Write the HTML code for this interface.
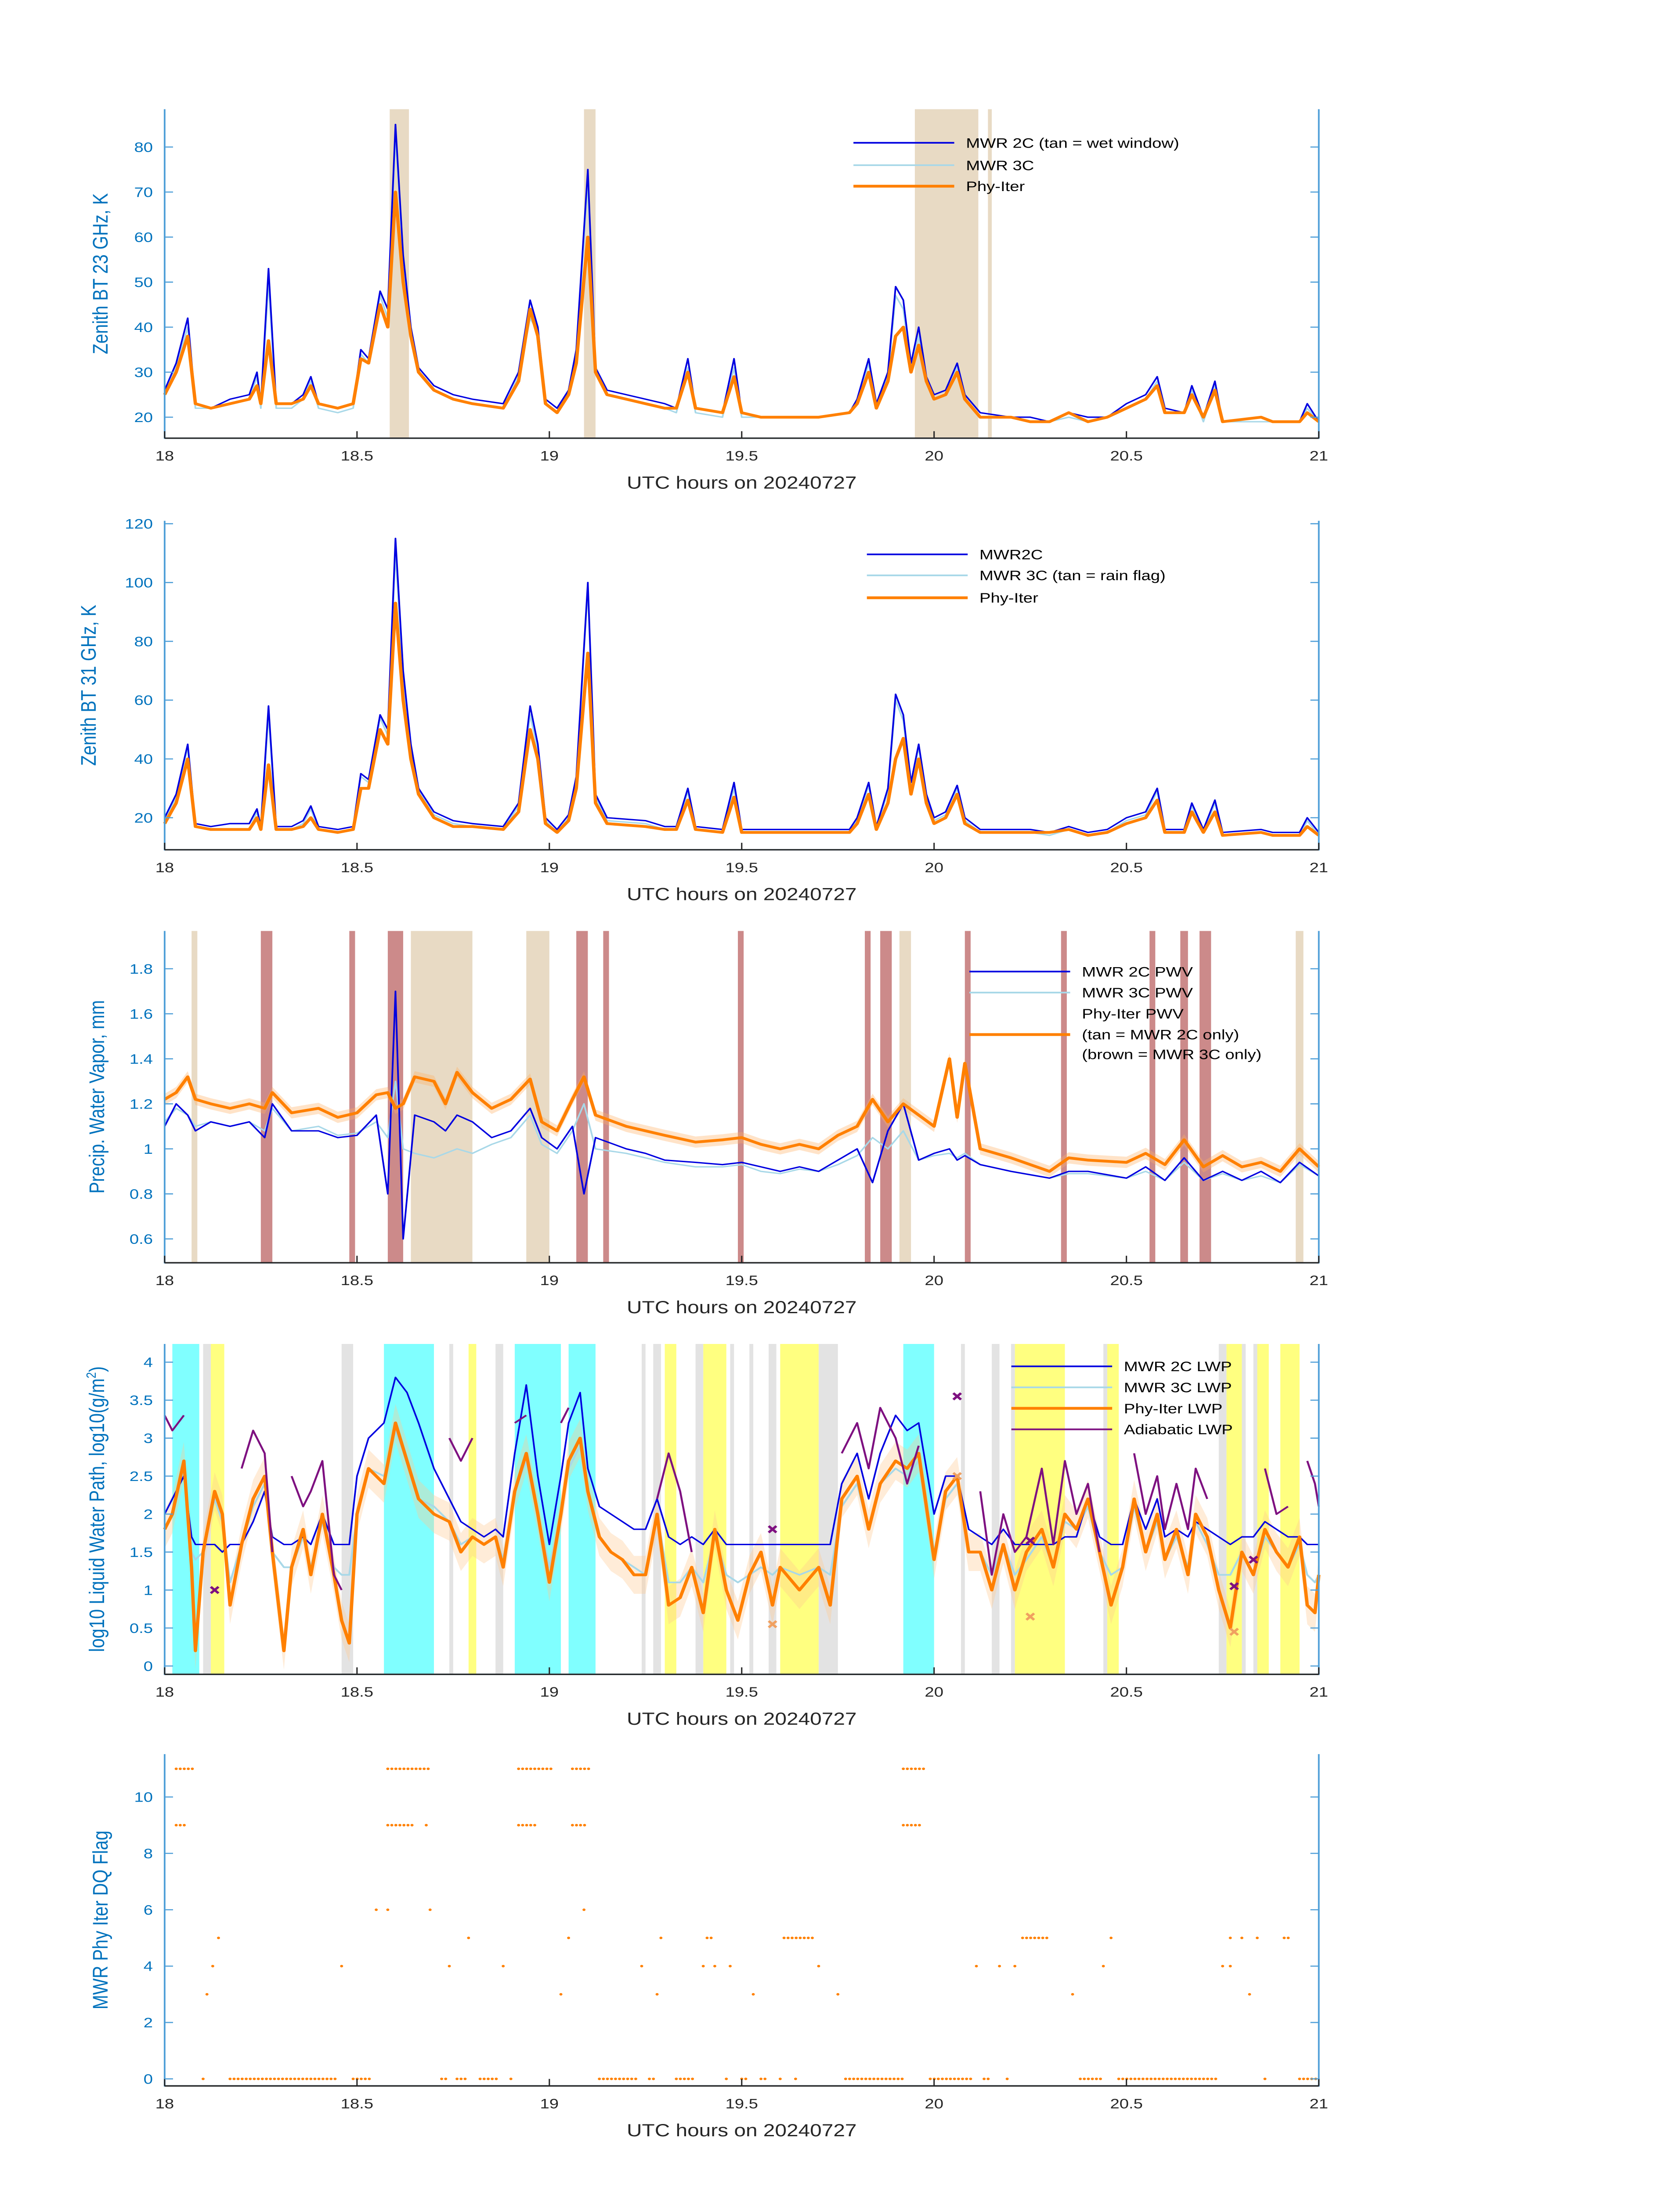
<!DOCTYPE html>
<html><head><meta charset="utf-8"><style>
html,body{margin:0;padding:0;background:#fff;overflow:hidden;width:100vw;height:100vh}
svg{display:block;width:100vw;height:100vh;position:absolute;left:0;top:0}
text{font-family:"Liberation Sans","DejaVu Sans",sans-serif}
</style></head><body>
<svg id="fig" xmlns="http://www.w3.org/2000/svg" viewBox="0 0 1000 1568.63" preserveAspectRatio="none">
<rect width="1000" height="1568.63" fill="#fff"/>
</svg>
<script>
// ---------- Panel 1 & 2 data ----------
const T1=[18.00,18.03,18.06,18.08,18.12,18.17,18.22,18.24,18.25,18.27,
18.29,18.33,18.36,18.38,18.40,18.45,18.49,18.51,18.53,18.56,
18.58,18.60,18.62,18.64,18.66,18.70,18.75,18.80,18.88,18.92,
18.95,18.97,18.99,19.02,19.05,19.07,19.10,19.12,19.15,19.25,
19.30,19.33,19.36,19.38,19.45,19.48,19.50,19.55,19.70,19.78,
19.80,19.83,19.85,19.88,19.90,19.92,19.94,19.96,19.98,20.00,
20.03,20.06,20.08,20.12,20.20,20.25,20.30,20.35,20.40,20.45,
20.50,20.55,20.58,20.60,20.65,20.67,20.70,20.73,20.75,20.85,
20.88,20.95,20.97,21.00];
const B23=[26,32,42,23,22,24,25,30,23,53, 23,23,25,29,23,22,23,35,33,48, 44,85,56,40,31,27,25,24,23,30, 46,40,24,22,26,35,75,31,26,24, 23,22,33,22,21,33,21,20,20,21, 24,33,23,30,49,46,32,40,29,25, 26,32,25,21,20,20,19,21,20,20, 23,25,29,22,21,27,20,28,19,20, 19,19,23,19];
const C23=[25,31,40,22,22,23,24,29,22,50, 22,22,24,28,22,21,22,34,32,47, 42,83,55,39,30,26,24,23,22,29, 42,39,23,21,25,34,72,30,25,23, 22,21,31,21,20,31,20,20,20,21, 23,32,22,29,47,44,31,38,28,24, 25,31,24,20,20,19,19,20,19,20, 22,24,28,21,21,26,19,27,19,19, 19,19,22,19];
const O23=[25,30,38,23,22,23,24,27,23,37, 23,23,24,27,23,22,23,33,32,45, 40,70,50,38,30,26,24,23,22,28, 44,38,23,21,25,32,60,30,25,23, 22,22,30,22,21,29,21,20,20,21, 23,30,22,28,38,40,30,36,28,24, 25,30,24,20,20,19,19,21,19,20, 22,24,27,21,21,25,20,26,19,20, 19,19,21,19];
const B31=[20,28,45,18,17,18,18,23,17,58, 17,17,19,24,17,16,17,35,33,55, 50,115,70,45,30,22,19,18,17,25, 58,45,20,16,21,34,100,28,20,19, 17,17,30,17,16,32,16,16,16,16, 20,32,17,30,62,55,32,45,28,20, 22,31,20,16,16,16,15,17,15,16, 20,22,30,16,16,25,16,26,15,16, 15,15,20,15];
const C31=[19,27,44,17,16,16,16,22,16,55, 16,16,18,23,16,15,16,34,32,54, 48,110,68,43,29,21,18,17,16,24, 55,43,19,15,20,33,98,27,19,18, 16,16,29,16,15,30,15,15,15,15, 19,31,16,29,60,53,31,44,27,19, 21,30,19,15,15,15,14,16,14,15, 19,21,29,15,15,24,15,25,14,15, 14,14,19,14];
const O31=[18,25,40,17,16,16,16,20,16,38, 16,16,17,20,16,15,16,30,30,50, 45,93,60,40,28,20,17,17,16,22, 50,40,18,15,19,30,76,25,18,17, 16,16,26,16,15,27,15,15,15,15, 18,28,16,25,40,47,28,40,25,18, 20,28,18,15,15,15,15,16,14,15, 18,20,26,15,15,22,15,22,14,15, 14,14,17,14];
const tan1Start=[18.585,19.09,19.95,20.14];
const tan1End=[18.635,19.12,20.115,20.15];
// ---------- Panel 3 data ----------
const T3=[18.00,18.03,18.06,18.08,18.12,18.17,18.22,18.26,18.28,18.33,
18.40,18.45,18.50,18.55,18.58,18.60,18.62,18.65,18.70,18.73,
18.76,18.80,18.85,18.90,18.95,18.98,19.02,19.06,19.09,19.12,
19.20,19.25,19.30,19.38,19.45,19.50,19.55,19.60,19.65,19.70,
19.75,19.80,19.84,19.88,19.92,19.96,20.00,20.04,20.06,20.08,
20.12,20.20,20.30,20.35,20.40,20.50,20.55,20.60,20.65,20.70,
20.75,20.80,20.85,20.90,20.95,21.00];
const B3=[1.10,1.20,1.15,1.08,1.12,1.10,1.12,1.05,1.20,1.08, 1.08,1.05,1.06,1.15,0.80,1.70,0.60,1.15,1.12,1.08, 1.15,1.12,1.05,1.08,1.18,1.05,1.00,1.10,0.80,1.05, 1.00,0.98,0.95,0.94,0.93,0.94,0.92,0.90,0.92,0.90, 0.95,1.00,0.85,1.08,1.20,0.95,0.98,1.00,0.95,0.97, 0.93,0.90,0.87,0.90,0.90,0.87,0.92,0.86,0.96,0.86, 0.90,0.86,0.90,0.85,0.94,0.88];
const C3=[1.12,1.18,1.15,1.10,1.12,1.10,1.12,1.08,1.18,1.08, 1.10,1.06,1.07,1.12,1.05,1.30,1.00,0.98,0.96,0.98, 1.00,0.98,1.02,1.05,1.15,1.02,0.98,1.08,1.20,1.00, 0.98,0.96,0.94,0.92,0.92,0.93,0.90,0.89,0.91,0.90, 0.93,0.97,1.05,1.00,1.08,0.95,0.97,0.98,0.96,0.98, 0.93,0.90,0.87,0.89,0.89,0.87,0.90,0.86,0.94,0.86, 0.89,0.86,0.88,0.85,0.93,0.88];
const O3=[1.22,1.25,1.32,1.22,1.20,1.18,1.20,1.18,1.25,1.16, 1.18,1.14,1.16,1.24,1.25,1.18,1.20,1.32,1.30,1.20, 1.34,1.25,1.18,1.22,1.31,1.12,1.08,1.22,1.32,1.15, 1.10,1.08,1.06,1.03,1.04,1.05,1.02,1.00,1.02,1.00, 1.06,1.10,1.22,1.12,1.20,1.15,1.10,1.40,1.14,1.38, 1.00,0.96,0.90,0.96,0.95,0.94,0.98,0.93,1.04,0.92, 0.97,0.92,0.94,0.90,1.00,0.92];
const tan3Start=[18.07,18.64,18.94,19.91,20.94];
const tan3End=[18.085,18.80,19.00,19.94,20.96];
const brown3Start=[18.25,18.48,18.58,19.07,19.14,19.49,19.82,19.86,20.08,20.33,20.56,20.64,20.69];
const brown3End=[18.28,18.495,18.62,19.10,19.155,19.505,19.835,19.89,20.095,20.345,20.575,20.66,20.72];
// ---------- Panel 4 data ----------
const T4=[18.00,18.02,18.05,18.07,18.08,18.10,18.13,18.15,18.17,18.20,
18.23,18.26,18.28,18.31,18.33,18.36,18.38,18.41,18.44,18.46,
18.48,18.50,18.53,18.57,18.60,18.63,18.66,18.70,18.74,18.77,
18.80,18.83,18.86,18.88,18.91,18.94,18.97,19.00,19.03,19.05,
19.08,19.10,19.13,19.16,19.19,19.22,19.25,19.28,19.31,19.34,
19.37,19.40,19.43,19.46,19.49,19.52,19.55,19.58,19.60,19.65,
19.70,19.73,19.76,19.80,19.83,19.86,19.90,19.93,19.96,20.00,
20.03,20.06,20.09,20.12,20.15,20.18,20.21,20.24,20.28,20.31,
20.34,20.37,20.40,20.43,20.46,20.49,20.52,20.55,20.58,20.60,
20.63,20.66,20.68,20.71,20.74,20.77,20.80,20.83,20.86,20.89,
20.92,20.95,20.97,20.99,21.00];
const B4=[2.0,2.2,2.5,1.7,1.6,1.6,1.6,1.5,1.6,1.6, 1.9,2.3,1.7,1.6,1.6,1.7,1.6,2.0,1.6,1.6, 1.6,2.5,3.0,3.2,3.8,3.6,3.2,2.6,2.2,1.9, 1.8,1.7,1.8,1.7,2.8,3.7,2.5,1.6,2.5,3.2, 3.6,2.6,2.1,2.0,1.9,1.8,1.8,2.2,1.7,1.6, 1.7,1.6,1.8,1.6,1.6,1.6,1.6,1.6,1.6,1.6, 1.6,1.6,2.4,2.8,2.2,2.8,3.3,3.1,3.2,2.0, 2.5,2.5,1.8,1.7,1.6,1.8,1.6,1.6,1.6,1.6, 1.7,1.7,2.2,1.7,1.6,1.6,2.2,1.8,2.2,1.7, 1.8,1.7,1.9,1.8,1.7,1.6,1.7,1.7,1.9,1.8, 1.7,1.7,1.6,1.6,1.6];
const C4=[1.8,2.0,2.6,1.5,1.4,1.5,2.2,1.9,1.1,1.6, 2.1,2.4,1.5,1.3,1.3,1.7,1.3,1.9,1.3,1.2, 1.2,2.0,2.6,2.5,3.1,2.7,2.2,2.1,1.9,1.6, 1.7,1.6,1.7,1.4,2.3,2.7,2.0,1.3,2.0,2.6, 2.9,2.3,1.7,1.5,1.4,1.3,1.2,2.0,1.1,1.1, 1.3,1.1,1.7,1.2,1.1,1.2,1.3,1.2,1.3,1.2, 1.3,1.2,2.1,2.4,1.8,2.4,2.6,2.5,2.7,1.5, 2.2,2.4,1.5,1.5,1.2,1.6,1.2,1.4,1.7,1.3, 1.9,1.8,2.1,1.5,1.2,1.3,2.1,1.5,1.9,1.4, 1.7,1.3,1.9,1.6,1.2,1.2,1.5,1.2,1.7,1.5, 1.3,1.6,1.2,1.1,1.2];
const O4=[1.8,2.0,2.7,1.3,0.2,1.5,2.3,2.0,0.8,1.6, 2.2,2.5,1.5,0.2,1.3,1.8,1.2,2.0,1.2,0.6, 0.3,2.0,2.6,2.4,3.2,2.7,2.2,2.0,1.9,1.5, 1.7,1.6,1.7,1.3,2.3,2.8,2.0,1.1,2.0,2.7, 3.0,2.3,1.7,1.5,1.4,1.2,1.2,2.0,0.8,0.9, 1.3,0.7,1.8,1.0,0.6,1.2,1.5,0.8,1.3,1.0, 1.3,0.8,2.2,2.5,1.8,2.4,2.7,2.6,2.8,1.4, 2.3,2.5,1.5,1.5,1.0,1.6,1.0,1.5,1.8,1.3, 2.0,1.8,2.2,1.5,0.8,1.3,2.2,1.5,2.0,1.4, 1.8,1.2,2.0,1.7,1.0,0.5,1.5,1.2,1.8,1.5, 1.3,1.7,0.8,0.7,1.2];
const A4=[3.3,3.1,3.3,null,null,null,null,null,null,2.6, 3.1,2.8,1.5,null,2.5,2.1,2.3,2.7,1.2,1.0, null,null,null,null,null,null,null,null,3.0,2.7, 3.0,null,null,null,3.2,3.3,null,null,3.2,3.4, null,null,null,null,null,null,null,2.2,2.8,2.3, 1.5,null,null,null,null,null,null,null,null,null, null,null,2.8,3.2,2.6,3.4,3.0,2.4,2.9,null, null,3.1,null,2.3,1.2,2.0,1.5,1.7,2.6,1.6, 2.7,2.0,2.4,1.5,null,null,2.8,2.0,2.5,1.8, 2.4,1.8,2.6,2.2,null,null,2.3,null,2.6,2.0, 2.1,null,2.7,2.4,2.1];
const cyanStart=[18.02,18.57,18.91,19.05,19.92];
const cyanEnd=[18.09,18.70,19.03,19.12,20.00];
const yelStart=[18.12,18.79,19.30,19.40,19.60,20.21,20.45,20.76,20.84,20.90];
const yelEnd=[18.155,18.81,19.33,19.46,19.70,20.34,20.48,20.80,20.87,20.95];
const greyStart=[18.10,18.46,18.74,18.86,19.24,19.27,19.38,19.47,19.52,19.57,19.70,20.07,20.15,20.20,20.44,20.74,20.80,20.83];
const greyEnd=[18.12,18.49,18.75,18.88,19.25,19.29,19.40,19.48,19.53,19.59,19.75,20.08,20.17,20.21,20.45,20.76,20.81,20.84];
const adiXT=[18.13,19.58,20.06,20.25,20.78,20.83];
const adiXV=[1.0,1.8,3.55,1.65,1.05,1.4];
const phyXT=[19.58,20.06,20.25,20.78];
const phyXV=[0.55,2.5,0.65,0.45];
// ---------- Panel 5 data (runs of DQ flag) ----------
const dqStart=[18.10,18.17,18.49,18.72,18.76,18.82,18.90,19.13,19.26,19.33,19.46,19.50,19.55,19.60,19.64,19.77,19.99,20.13,20.19,20.38,20.48,20.86,20.95,
18.11,19.03,19.28,19.53,19.75,20.36,20.82,
18.125,18.46,18.74,18.88,19.24,19.40,19.43,19.47,19.70,20.11,20.17,20.21,20.44,20.75,20.77,
18.14,18.79,19.05,19.29,19.41,19.61,20.23,20.46,20.77,20.80,20.84,20.91,
18.55,18.58,18.69,19.09,
18.03,18.58,18.68,18.92,19.06,19.92,
18.03,18.58,18.92,19.06,19.92];
const dqEnd=[18.10,18.45,18.54,18.74,18.79,18.87,18.90,19.23,19.28,19.38,19.46,19.52,19.57,19.60,19.64,19.92,20.10,20.15,20.20,20.44,20.74,20.86,21.00,
18.11,19.03,19.28,19.53,19.75,20.36,20.82,
18.125,18.47,18.74,18.88,19.24,19.40,19.43,19.47,19.71,20.11,20.17,20.21,20.44,20.75,20.77,
18.14,18.79,19.05,19.30,19.43,19.69,20.30,20.46,20.77,20.81,20.84,20.93,
18.55,18.59,18.69,19.09,
18.06,18.65,18.68,18.97,19.10,19.97,
18.08,18.69,19.01,19.11,19.98];
const dqFlag=[0,0,0,0,0,0,0,0,0,0,0,0,0,0,0,0,0,0,0,0,0,0,0,
3,3,3,3,3,3,3,
4,4,4,4,4,4,4,4,4,4,4,4,4,4,4,
5,5,5,5,5,5,5,5,5,5,5,5,
6,6,6,6,
9,9,9,9,9,9,
11,11,11,11,11];
const xTicks=[18,18.5,19,19.5,20,20.5,21];
const xTickLabels=["18","18.5","19","19.5","20","20.5","21"];

const NS="http://www.w3.org/2000/svg";
const svg=document.getElementById('fig');
const X0=98,X1=785;
function X(t){return X0+(t-18)/3*(X1-X0);}
function mk(tag,attrs,parent){const e=document.createElementNS(NS,tag);for(const k in attrs)e.setAttribute(k,attrs[k]);(parent||svg).appendChild(e);return e;}
function makeY(p){return v=>p.bot-(v-p.ymin)/(p.ymax-p.ymin)*(p.bot-p.top);}
const BLUE='#0000e0',LBLUE='#a8d8e8',ORANGE='#ff8000',PURPLE='#7e1080',AX='#4f9fd8',TXT='#0072bd';

function panel(p,name){
  const g=mk('g',{});
  
  
  p.g=g;p.Y=makeY(p);return g;
}
function spans(p,starts,ends,color,name){
  for(let i=0;i<starts.length;i++){
    const r=mk('rect',{x:X(starts[i]),y:p.top,width:Math.max(0.8,X(ends[i])-X(starts[i])),height:p.bot-p.top,fill:color},p.g);
    
    
  }
}
function line(p,ts,vs,color,w,name){
  let d='',pen=false;
  for(let i=0;i<ts.length;i++){
    const v=vs[i];
    if(v===null||v===undefined){pen=false;continue;}
    const y=Math.max(p.top,Math.min(p.bot,p.Y(v)));
    d+=(pen?'L':'M')+X(ts[i]).toFixed(2)+','+y.toFixed(2);pen=true;
  }
  const e=mk('path',{d:d,fill:'none',stroke:color,'stroke-width':w,'stroke-linejoin':'round'},p.g);
  
  
}
function band(p,ts,vs,dv,color,name){
  let up='',dn='';
  for(let i=0;i<ts.length;i++){up+=(i?'L':'M')+X(ts[i])+','+Math.max(p.top,p.Y(vs[i]+dv));}
  for(let i=ts.length-1;i>=0;i--){dn+='L'+X(ts[i])+','+Math.min(p.bot,p.Y(vs[i]-dv));}
  const e=mk('path',{d:up+dn+'Z',fill:color,opacity:0.35},p.g);
  
  
}
function axes(p,yticks,ylabel,ylx){
  const g=p.g;
  const bx=mk('path',{d:`M${X0},${p.top}V${p.bot}H${X1}V${p.top}`,fill:'none',stroke:AX,'stroke-width':1},g);
  
  
  const bl=mk('line',{x1:X0,x2:X1,y1:p.bot,y2:p.bot,stroke:'#262626','stroke-width':1},g);
  
  
  for(let i=0;i<xTicks.length;i++){
    const x=X(xTicks[i]);
    mk('line',{x1:x,x2:x,y1:p.bot,y2:p.bot-5,stroke:'#262626','stroke-width':0.8},g);
    const t=mk('text',{x:x,y:p.bot+16,'font-size':10,'text-anchor':'middle',fill:'#262626'},g);
    t.textContent=xTickLabels[i];
    
    
  }
  for(const v of yticks){
    const y=p.Y(v);
    mk('line',{x1:X0,x2:X0+5,y1:y,y2:y,stroke:AX,'stroke-width':0.8},g);
    mk('line',{x1:X1,x2:X1-5,y1:y,y2:y,stroke:AX,'stroke-width':0.8},g);
    const t=mk('text',{x:X0-7,y:y+3.5,'font-size':10,'text-anchor':'end',fill:TXT},g);
    t.textContent=String(v);
    
    
  }
  const xl=mk('text',{x:(X0+X1)/2,y:p.bot+36,'font-size':12.5,'text-anchor':'middle',fill:'#262626'},g);
  xl.textContent='UTC hours on 20240727';
  
  
  const cy=(p.top+p.bot)/2;
  const yl=mk('text',{x:ylx,y:cy,'font-size':12.5,'text-anchor':'middle',fill:TXT,transform:`rotate(-90 ${ylx} ${cy})`},g);
  if(Array.isArray(ylabel)){yl.appendChild(document.createTextNode(ylabel[0]));const s=mk('tspan',{'font-size':8,dy:-5},yl);s.textContent=ylabel[1];const s2=mk('tspan',{dy:5},yl);s2.textContent=ylabel[2];}
  else yl.textContent=ylabel;
  
  
}
function legend(p,x,ys,items){
  const lg=mk('g',{},p.g);
  
  
  items.forEach((it,i)=>{
    if(it.c){const l=mk('line',{x1:x,x2:x+60,y1:ys[i],y2:ys[i],stroke:it.c,'stroke-width':it.w},lg);
      }
    const t=mk('text',{x:x+67,y:ys[i]+3.5,'font-size':10,fill:'#000'},lg);
    t.textContent=it.t;
    
    
  });
}
function xmark(p,t,v,color,name){
  const x=X(t),y=p.Y(v),s=2.3;
  const e=mk('path',{d:`M${x-s},${y-s}L${x+s},${y+s}M${x-s},${y+s}L${x+s},${y-s}`,stroke:color,'stroke-width':1.6},p.g);
  
  
}

// Panel 1
const p1={top:78,bot:313,ymin:15.34,ymax:88.4};
panel(p1,'panel-bt23');
spans(p1,tan1Start,tan1End,'#e8dac4','wet-window-span');
line(p1,T1,C23,LBLUE,1,'mwr3c-bt23-line');
line(p1,T1,B23,BLUE,1,'mwr2c-bt23-line');
line(p1,T1,O23,ORANGE,2,'phyiter-bt23-line');
axes(p1,[20,30,40,50,60,70,80],'Zenith BT 23 GHz, K',64);
legend(p1,508,[102,118,133],[{c:BLUE,w:1.2,t:'MWR 2C (tan = wet window)'},{c:LBLUE,w:1.2,t:'MWR 3C'},{c:ORANGE,w:2,t:'Phy-Iter'}]);

// Panel 2
const p2={top:372,bot:607,ymin:9.1,ymax:121};
panel(p2,'panel-bt31');
line(p2,T1,C31,LBLUE,1,'mwr3c-bt31-line');
line(p2,T1,B31,BLUE,1,'mwr2c-bt31-line');
line(p2,T1,O31,ORANGE,2,'phyiter-bt31-line');
axes(p2,[20,40,60,80,100,120],'Zenith BT 31 GHz, K',57);
legend(p2,516,[396,411,427],[{c:BLUE,w:1.2,t:'MWR2C'},{c:LBLUE,w:1.2,t:'MWR 3C (tan = rain flag)'},{c:ORANGE,w:2,t:'Phy-Iter'}]);

// Panel 3
const p3={top:665,bot:902,ymin:0.494,ymax:1.968};
panel(p3,'panel-pwv');
spans(p3,tan3Start,tan3End,'#e8dac4','mwr2c-only-span');
spans(p3,brown3Start,brown3End,'#cc8a8a','mwr3c-only-span');
band(p3,T3,O3,0.025,'#ffb060','phyiter-pwv-uncertainty');
line(p3,T3,C3,LBLUE,1,'mwr3c-pwv-line');
line(p3,T3,B3,BLUE,1,'mwr2c-pwv-line');
line(p3,T3,O3,ORANGE,2,'phyiter-pwv-line');
axes(p3,[0.6,0.8,1,1.2,1.4,1.6,1.8],'Precip. Water Vapor, mm',62);
legend(p3,577,[694,709,724,739,753],[{c:BLUE,w:1.2,t:'MWR 2C PWV'},{c:LBLUE,w:1.2,t:'MWR 3C PWV'},{t:'Phy-Iter PWV'},{c:ORANGE,w:2,t:'(tan = MWR 2C only)'},{t:'(brown = MWR 3C only)'}]);

// Panel 4
const p4={top:960,bot:1196,ymin:-0.11,ymax:4.24};
panel(p4,'panel-lwp');
spans(p4,cyanStart,cyanEnd,'#80ffff','cyan-span');
spans(p4,yelStart,yelEnd,'#ffff80','yellow-span');
spans(p4,greyStart,greyEnd,'#e3e3e3','grey-span');
band(p4,T4,O4,0.25,'#ffc890','phyiter-lwp-uncertainty');
line(p4,T4,C4,LBLUE,1.2,'mwr3c-lwp-line');
line(p4,T4,B4,BLUE,1,'mwr2c-lwp-line');
line(p4,T4,O4,ORANGE,2,'phyiter-lwp-line');
line(p4,T4,A4,PURPLE,1.2,'adiabatic-lwp-line');
for(let i=0;i<adiXT.length;i++)xmark(p4,adiXT[i],adiXV[i],PURPLE,'adiabatic-lwp-marker');
for(let i=0;i<phyXT.length;i++)xmark(p4,phyXT[i],phyXV[i],'#f0a060','phyiter-lwp-marker');
axes(p4,[0,0.5,1,1.5,2,2.5,3,3.5,4],['log10 Liquid Water Path, log10(g/m','2',')'],62);
legend(p4,602,[976,991,1006,1021],[{c:BLUE,w:1.2,t:'MWR 2C LWP'},{c:LBLUE,w:1.2,t:'MWR 3C LWP'},{c:ORANGE,w:2,t:'Phy-Iter LWP'},{c:PURPLE,w:1.2,t:'Adiabatic LWP'}]);

// Panel 5
const p5={top:1253,bot:1490,ymin:-0.25,ymax:11.52};
panel(p5,'panel-dq-flag');
for(let i=0;i<dqStart.length;i++){
  for(let t=dqStart[i];t<=dqEnd[i]+1e-6;t+=0.0105){
    const c=mk('circle',{cx:X(t),cy:p5.Y(dqFlag[i]),r:0.9,fill:ORANGE},p5.g);
    
    
  }
}
axes(p5,[0,2,4,6,8,10],'MWR Phy Iter DQ Flag',64);
</script>
</body></html>
